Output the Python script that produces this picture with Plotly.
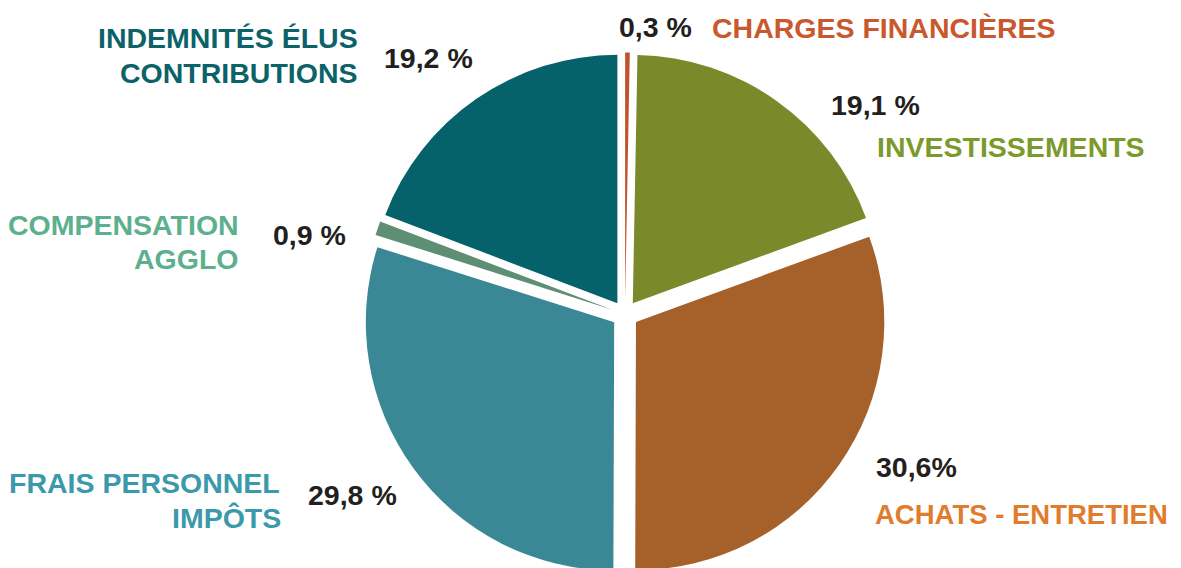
import plotly.graph_objects as go

# ---- data (clockwise from 12 o'clock) ----
categories = ["CHARGES FINANCIÈRES", "INVESTISSEMENTS", "ACHATS - ENTRETIEN",
              "FRAIS PERSONNEL IMPÔTS", "COMPENSATION AGGLO", "INDEMNITÉS ÉLUS CONTRIBUTIONS"]
values = [0.3, 19.1, 30.6, 29.8, 0.9, 19.2]
pct_labels = ["0,3 %", "19,1 %", "30,6%", "29,8 %", "0,9 %", "19,2 %"]
label_lines = [["CHARGES FINANCIÈRES"], ["INVESTISSEMENTS"], ["ACHATS - ENTRETIEN"],
               ["FRAIS PERSONNEL", "IMPÔTS"], ["COMPENSATION", "AGGLO"],
               ["INDEMNITÉS ÉLUS", "CONTRIBUTIONS"]]

slice_colors = ["#c0532b", "#7a8a2a", "#a6612b", "#3a8896", "#5e8f74", "#05616a"]
label_colors = ["#c9582c", "#7b9a2b", "#e07c2e", "#3a9aab", "#5db08d", "#0b6269"]
pct_color = "#231f20"

W, H = 1181, 568
OFF = 8  # page body margin offset
FONT = "Liberation Sans, Arial, sans-serif"
FS = 28.5

fig = go.Figure(go.Pie(
    labels=categories, values=values, sort=False, direction="clockwise",
    rotation=0, pull=[0.054] * len(values),
    marker=dict(colors=slice_colors, line=dict(width=0)),
    textinfo="none", hoverinfo="label+percent", showlegend=False,
    domain=dict(x=[217 / W, 1017 / W], y=[0.0, 1 - 44.5 / H]),
))

# label layout: (text, colour, anchor x px, xanchor, cap-centre y px, size) in screen pixels
placements = [
    (pct_labels[0], pct_color, 618, "left", 27, FS),
    (label_lines[0][0], label_colors[0], 711, "left", 27.5, FS),
    (pct_labels[1], pct_color, 830, "left", 105, FS),
    (label_lines[1][0], label_colors[1], 876, "left", 147, FS),
    (pct_labels[2], pct_color, 875, "left", 467, FS),
    (label_lines[2][0], label_colors[2], 874, "left", 514.5, 27.5),
    (pct_labels[3], pct_color, 307, "left", 494.5, FS),
    (label_lines[3][0], label_colors[3], 281, "right", 482.5, FS),
    (label_lines[3][1], label_colors[3], 282, "right", 517.5, FS),
    (pct_labels[4], pct_color, 272, "left", 235, FS),
    (label_lines[4][0], label_colors[4], 240, "right", 225, FS),
    (label_lines[4][1], label_colors[4], 240, "right", 259.5, FS),
    (pct_labels[5], pct_color, 383, "left", 58, FS),
    (label_lines[5][0], label_colors[5], 359, "right", 37.7, FS),
    (label_lines[5][1], label_colors[5], 359, "right", 72.5, FS),
]

for text, col, px, xa, py, fs in placements:
    fig.add_annotation(
        x=(px - OFF) / W, y=1 - (py - OFF) / H, xref="paper", yref="paper",
        text=f"<b>{text}</b>", showarrow=False, xanchor=xa, yanchor="middle",
        font=dict(family=FONT, size=fs, color=col), borderpad=0,
    )

fig.update_layout(
    width=W, height=H, margin=dict(l=0, r=0, t=0, b=0),
    paper_bgcolor="white", plot_bgcolor="white",
)

fig.write_html("out.html")
